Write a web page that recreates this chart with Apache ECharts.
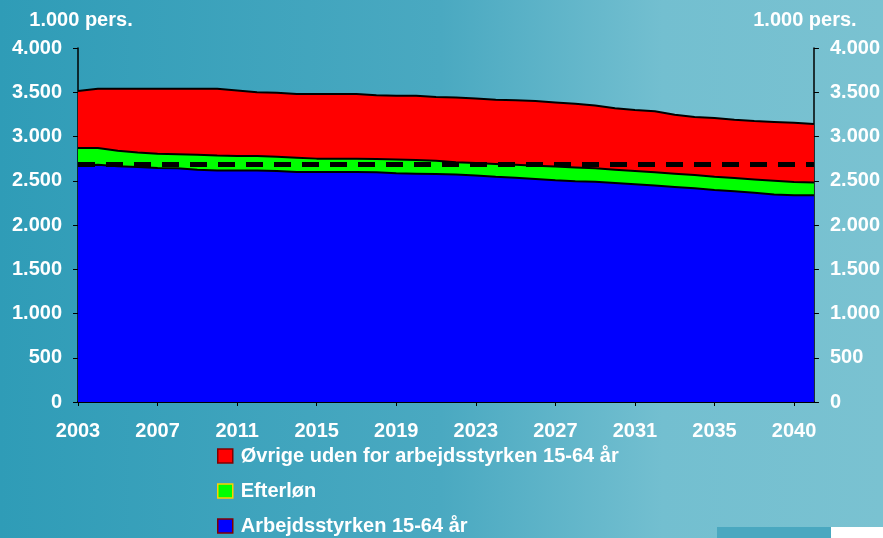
<!DOCTYPE html>
<html>
<head>
<meta charset="utf-8">
<script src="https://cdn.jsdelivr.net/npm/echarts@6/dist/echarts.min.js"></script>
<style>
  html, body { margin: 0; padding: 0; }
  #chart { width: 883px; height: 538px; }
</style>
</head>
<body>
<div id="chart"></div>
<script>
  // years on the x axis (one point per year)
  const years = [];
  for (let y = 2003; y <= 2040; y++) years.push(String(y));

  // labels shown under every 4th tick
  const tickLabels = ['2003', '2007', '2011', '2015', '2019', '2023', '2027', '2031', '2035', '2040'];

  const arbejdsstyrken = [
    2670, 2680, 2665, 2655, 2645, 2640, 2625, 2615, 2615, 2615,
    2610, 2600, 2600, 2600, 2598, 2595, 2585, 2580, 2575, 2570,
    2560, 2545, 2535, 2520, 2505, 2495, 2490, 2475, 2460, 2445,
    2430, 2415, 2395, 2380, 2365, 2345, 2335, 2335,
  ];
  const efterlon = [
    200, 190, 175, 165, 160, 160, 170, 170, 165, 165,
    160, 160, 150, 150, 150, 150, 155, 155, 150, 140,
    140, 145, 145, 150, 155, 155, 150, 150, 150, 150,
    150, 150, 150, 150, 150, 155, 150, 145,
  ];
  const ovrige = [
    645, 670, 700, 720, 735, 740, 745, 755, 740, 720,
    725, 720, 730, 730, 732, 720, 720, 725, 720, 730,
    730, 725, 730, 730, 725, 720, 710, 695, 690, 690,
    665, 655, 665, 660, 660, 665, 670, 660,
  ];
  const referenceLevel = 2690;

  const yTicks = [0, 500, 1000, 1500, 2000, 2500, 3000, 3500, 4000];

  const chart = echarts.init(document.getElementById('chart'));

  const white = '#ffffff';
  const font = 'Liberation Sans, Arial, sans-serif';
  const fmt = (v) => v.toLocaleString('da-DK');

  const yAxisBase = {
    type: 'value',
    min: yTicks[0],
    max: yTicks[yTicks.length - 1],
    interval: 500,
    name: '1.000 pers.',
    nameGap: 18,
    axisLine: { show: true, lineStyle: { color: '#000', width: 1.5 } },
    axisTick: { show: true, length: 5, lineStyle: { color: '#000' } },
    axisLabel: {
      color: white, fontSize: 20, fontWeight: 'bold', fontFamily: font,
      margin: 16, formatter: fmt,
    },
    splitLine: { show: false },
  };
  const nameStyle = { color: white, fontSize: 20, fontWeight: 'bold', fontFamily: font };

  const option = {
    backgroundColor: new echarts.graphic.LinearGradient(0, 0, 1, 0, [
      { offset: 0, color: '#2f9cb7' },
      { offset: 0.5, color: '#4aa9c1' },
      { offset: 0.75, color: '#73bfd0' },
      { offset: 1, color: '#7ac2d1' },
    ]),
    animation: false,
    grid: { left: 78, right: 68, top: 48, bottom: 136 },
    legend: {
      orient: 'vertical',
      left: 217,
      top: 446,
      padding: 0,
      itemWidth: 15,
      itemHeight: 14,
      itemGap: 15,
      icon: 'rect',
      textStyle: { color: white, fontSize: 20, fontWeight: 'bold', fontFamily: font, padding: [0, 0, 0, 3] },
      data: [
        { name: 'Øvrige uden for arbejdsstyrken 15-64 år', itemStyle: { color: '#ff0000', borderColor: '#800000', borderWidth: 1.5 } },
        { name: 'Efterløn', itemStyle: { color: '#00ff00', borderColor: '#ffd000', borderWidth: 1.5 } },
        { name: 'Arbejdsstyrken 15-64 år', itemStyle: { color: '#0000ff', borderColor: '#800000', borderWidth: 1.5 } },
      ],
    },
    xAxis: {
      type: 'category',
      data: years,
      boundaryGap: false,
      axisLine: { lineStyle: { color: '#000', width: 2 } },
      axisTick: { interval: 3, length: 4, lineStyle: { color: '#000' } },
      axisLabel: {
        interval: 3,
        color: white, fontSize: 20, fontWeight: 'bold', fontFamily: font,
        margin: 19,
        formatter: (value, index) => tickLabels[index / 4] || '',
      },
    },
    yAxis: [
      Object.assign({}, yAxisBase, { position: 'left', nameTextStyle: Object.assign({ padding: [0, 0, 0, 6] }, nameStyle) }),
      Object.assign({}, yAxisBase, { position: 'right', nameTextStyle: Object.assign({ padding: [0, 18, 0, 0] }, nameStyle) }),
    ],
    series: [
      {
        name: 'Arbejdsstyrken 15-64 år',
        type: 'line',
        stack: 'total',
        symbol: 'none',
        data: arbejdsstyrken,
        lineStyle: { color: '#000', width: 2 },
        areaStyle: { color: '#0000ff', opacity: 1 },
        itemStyle: { color: '#0000ff' },
      },
      {
        name: 'Efterløn',
        type: 'line',
        stack: 'total',
        symbol: 'none',
        data: efterlon,
        lineStyle: { color: '#000', width: 2 },
        areaStyle: { color: '#00ff00', opacity: 1 },
        itemStyle: { color: '#00ff00' },
      },
      {
        name: 'Øvrige uden for arbejdsstyrken 15-64 år',
        type: 'line',
        stack: 'total',
        symbol: 'none',
        data: ovrige,
        lineStyle: { color: '#000', width: 2 },
        areaStyle: { color: '#ff0000', opacity: 1 },
        itemStyle: { color: '#ff0000' },
        markLine: {
          silent: true,
          symbol: 'none',
          label: { show: false },
          lineStyle: { color: '#000', width: 5, type: [17, 11] },
          data: [{ yAxis: referenceLevel }],
        },
      },
    ],
    graphic: [
      { type: 'rect', left: 717, top: 527, shape: { width: 115, height: 11 }, style: { fill: '#4aa8c0' } },
      { type: 'rect', left: 831, top: 527, shape: { width: 52, height: 11 }, style: { fill: '#ffffff' } },
    ],
  };

  chart.setOption(option);
</script>
</body>
</html>
